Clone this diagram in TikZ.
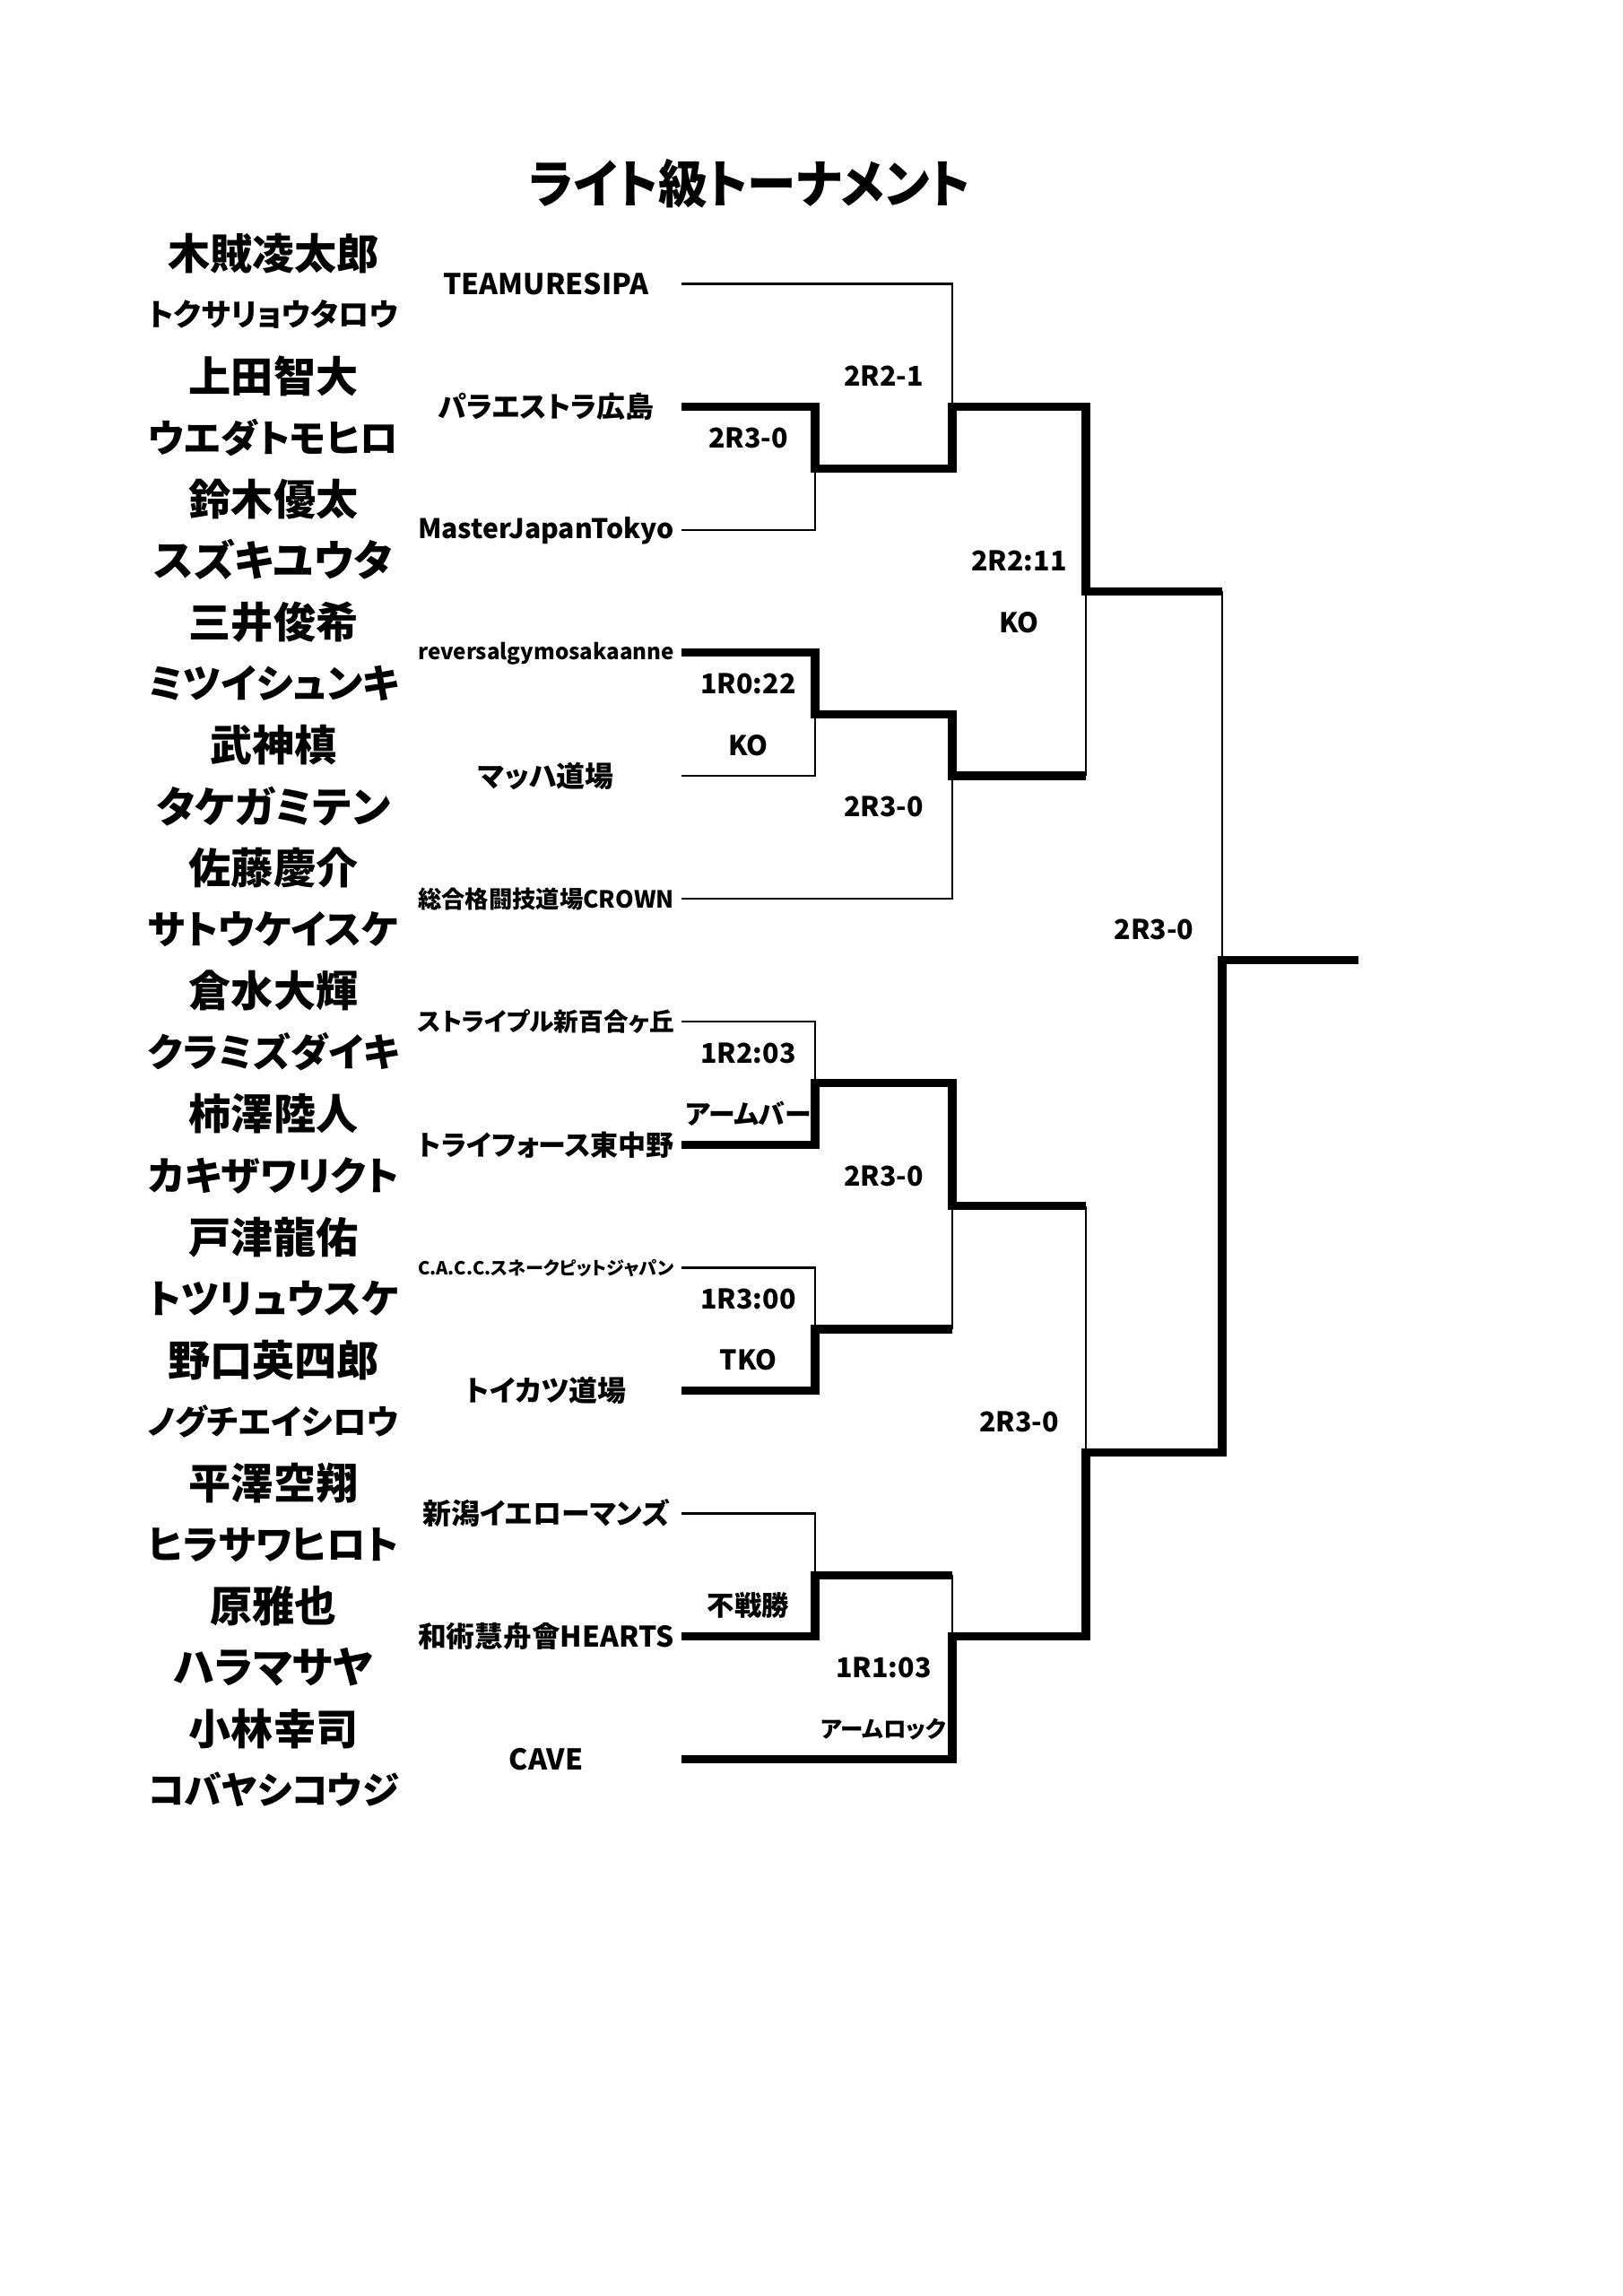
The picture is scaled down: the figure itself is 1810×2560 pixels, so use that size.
\documentclass[tikz,border=0pt]{standalone}
\usepackage{fontspec}
\usepackage{graphicx}
\setmainfont{Noto Sans CJK JP}[RawFeature=+palt]
\newsavebox\fitbox
\newcommand\fitto[2]{\sbox\fitbox{\rule[-0.12em]{0pt}{1em}#2}\ifdim\wd\fitbox>#1\relax\resizebox{#1}{!}{\usebox\fitbox}\else\usebox\fitbox\fi}
\tikzset{
  fname/.style={font=\fontsize{15.5}{18}\selectfont\bfseries},
  fteam/.style={font=\fontsize{10.5}{13}\selectfont\bfseries},
  flabel/.style={font=\fontsize{10}{12}\selectfont\bfseries},
  ftitle/.style={font=\bfseries},
  thinline/.style={line width=0.8pt},
  winline/.style={line width=3pt, line cap=rect, shorten >=1.5pt},
  winstart/.style={winline, shorten <=1.5pt},
}
\begin{document}
\begin{tikzpicture}[x=0.32891pt,y=-0.32891pt, every node/.style={inner sep=0pt,outer sep=0pt}]
\useasboundingbox (0,0) rectangle (1810,2560);
\fill[white] (0,0) rectangle (1810,2560);

\node[ftitle] (title) at (836,205) {\resizebox*{162pt}{18pt}{ライト級トーナメント}};

\foreach \i/\a/\b in {0/木賊凌太郎/トクサリョウタロウ,1/上田智大/ウエダトモヒロ,2/鈴木優太/スズキユウタ,3/三井俊希/ミツイシュンキ,4/武神槙/タケガミテン,5/佐藤慶介/サトウケイスケ,6/倉水大輝/クラミズダイキ,7/柿澤陸人/カキザワリクト,8/戸津龍佑/トツリュウスケ,9/野口英四郎/ノグチエイシロウ,10/平澤空翔/ヒラサワヒロト,11/原雅也/ハラマサヤ,12/小林幸司/コバヤシコウジ}{
  \node[fname] (kj\i) at (305,{316.6+137.1*\i-34.275}) {\fitto{92pt}{\a}};
  \node[fname] (kn\i) at (305,{316.6+137.1*\i+34.275}) {\fitto{92pt}{\b}};
}

\foreach \i/\t in {0/TEAMURESIPA,1/パラエストラ広島,2/MasterJapanTokyo,3/reversalgymosakaanne,4/マッハ道場,5/総合格闘技道場CROWN,6/ストライプル新百合ヶ丘,7/トライフォース東中野,8/C.A.C.C.スネークピットジャパン,9/トイカツ道場,10/新潟イエローマンズ,11/和術慧舟會HEARTS,12/CAVE}{
  \node[fteam] (team\i) at (609,{316.6+137.1*\i}) {\fitto{94pt}{\t}};
  \coordinate (t\i) at (760,{316.6+137.1*\i});
}

% match junctions
\coordinate (m1) at (909,522.3);
\coordinate (m2) at (1062,453.7);
\coordinate (m3) at (909,796.5);
\coordinate (m4) at (1062,865.0);
\coordinate (m5) at (1211,659.4);
\coordinate (m6) at (909,1207.8);
\coordinate (m7) at (909,1482.0);
\coordinate (m8) at (1062,1344.9);
\coordinate (m9) at (909,1756.2);
\coordinate (m10) at (1062,1824.7);
\coordinate (m11) at (1211,1619.1);
\coordinate (m12) at (1363,1070.7);
\coordinate (champ) at (1515,1070.7);

% thin (losing) lines
\draw[thinline] (t2) -| (m1);
\draw[thinline] (t0) -| (m2);
\draw[thinline] (t4) -| (m3);
\draw[thinline] (t5) -| (m4);
\draw[thinline] (m4 -| m5) -- (m5);
\draw[thinline] (t6) -| (m6);
\draw[thinline] (t8) -| (m7);
\draw[thinline] (m7 -| m8) -- (m8);
\draw[thinline] (t10) -| (m9);
\draw[thinline] (m9 -| m10) -- (m10);
\draw[thinline] (m8 -| m11) -- (m11);
\draw[thinline] (m5 -| m12) -- (m12);

% thick (winning) lines
\draw[winstart] (t1) -| (m1) -- (m1 -| m2);
\draw[winline] (m1 -| m2) -- (m2) -- (m2 -| m5);
\draw[winstart] (t3) -| (m3) -- (m3 -| m4);
\draw[winline] (m3 -| m4) -- (m4) -- (m4 -| m5);
\draw[winline] (m2 -| m5) -- (m5) -- (m5 -| m12);
\draw[winstart] (t7) -| (m6) -- (m6 -| m8);
\draw[winstart] (t9) -| (m7) -- (m7 -| m8);
\draw[winline] (m6 -| m8) -- (m8) -- (m8 -| m11);
\draw[winstart] (t11) -| (m9) -- (m9 -| m10);
\draw[winstart] (t12) -| (m10) -- (m10 -| m11);
\draw[winline] (m10 -| m11) -- (m11) -- (m11 -| m12);
\draw[winline] (m11 -| m12) -- (m12) -- (champ);

% result labels
\node[flabel] (r1a) at (834.5,488.0) {\fitto{46pt}{2R3-0}};
\node[flabel] (r2a) at (985.5,419.4) {\fitto{46pt}{2R2-1}};
\node[flabel] (r3a) at (834.5,762.2) {\fitto{46pt}{1R0:22}};
\node[flabel] (r3b) at (834.5,830.7) {\fitto{46pt}{KO}};
\node[flabel] (r4a) at (985.5,899.3) {\fitto{46pt}{2R3-0}};
\node[flabel] (r5a) at (1136.5,625.1) {\fitto{46pt}{2R2:11}};
\node[flabel] (r5b) at (1136.5,693.6) {\fitto{46pt}{KO}};
\node[flabel] (r12a) at (1287,1036.4) {\fitto{46pt}{2R3-0}};
\node[flabel] (r6a) at (834.5,1173.5) {\fitto{46pt}{1R2:03}};
\node[flabel] (r6b) at (834.5,1242.0) {\fitto{46pt}{アームバー}};
\node[flabel] (r8a) at (985.5,1310.6) {\fitto{46pt}{2R3-0}};
\node[flabel] (r7a) at (834.5,1447.7) {\fitto{46pt}{1R3:00}};
\node[flabel] (r7b) at (834.5,1516.2) {\fitto{46pt}{TKO}};
\node[flabel] (r11a) at (1136.5,1584.8) {\fitto{46pt}{2R3-0}};
\node[flabel] (r9a) at (834.5,1790.4) {\fitto{46pt}{不戦勝}};
\node[flabel] (r10a) at (985.5,1859.0) {\fitto{46pt}{1R1:03}};
\node[flabel] (r10b) at (985.5,1927.5) {\fitto{46pt}{アームロック}};
\end{tikzpicture}
\end{document}
